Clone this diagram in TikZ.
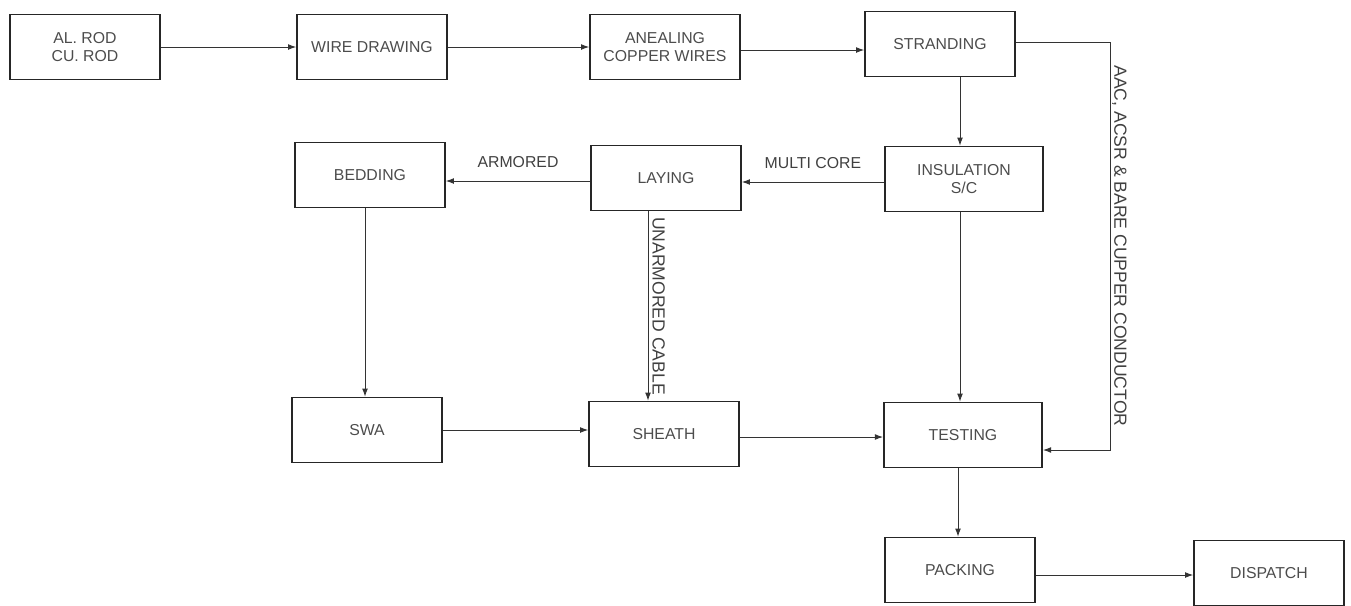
\documentclass[tikz,border=0pt]{standalone}
\usepackage{fontspec}
\setmainfont{Liberation Sans}
\usetikzlibrary{arrows.meta}

\tikzset{
  stage/.style={draw=black!85, line width=1.3pt, minimum width=4.5cm, minimum height=1.95cm,
    align=center, font=\fontsize{13.5}{16}\selectfont, text=black!70},
  flow/.style={draw=black!80, line width=0.8pt, -{Latex[length=7pt,width=5pt]}},
  tag/.style={font=\fontsize{13.5}{15}\selectfont, text=black!75},
  sidetag/.style={font=\fontsize{15}{17}\selectfont, text=black!75}
}

\begin{document}
\begin{tikzpicture}[x=0.03cm, y=-0.03cm]
  \useasboundingbox (0,0) rectangle (1351,605);
  % top row
  \node[stage] (rod) at (85,47) {AL. ROD\\CU. ROD};
  \node[stage] (wire) at (372,47) {WIRE DRAWING};
  \node[stage] (anneal) at (665,47) {ANEALING\\COPPER WIRES};
  \node[stage] (strand) at (940,44) {STRANDING};
  % middle row
  \node[stage] (bedding) at (370,175) {BEDDING};
  \node[stage] (laying) at (666,178) {LAYING};
  \node[stage, minimum width=4.75cm] (insul) at (964,179) {INSULATION\\S/C};
  % lower rows
  \node[stage] (swa) at (367,430) {SWA};
  \node[stage] (sheath) at (664,434) {SHEATH};
  \node[stage, minimum width=4.75cm] (testing) at (963,435) {TESTING};
  \node[stage] (packing) at (960,570) {PACKING};
  \node[stage] (dispatch) at (1269,573) {DISPATCH};
  \coordinate (bend1) at (1110,42);
  \coordinate (bend2) at (1110,450);

  \draw[flow] (rod) -- (wire);
  \draw[flow] (wire) -- (anneal);
  \draw[flow] (anneal.east |- 0,50) -- (strand.west |- 0,50);
  \draw[flow] (strand.south -| 960,0) -- (insul.north -| 960,0);
  \draw[flow] (insul.west |- 0,182) -- node[tag, above=8pt] {MULTI CORE} (laying.east |- 0,182);
  \draw[flow] (laying.west |- 0,181) -- node[tag, above=8pt] {ARMORED} (bedding.east |- 0,181);
  \draw[flow] (laying.south -| 648,0) -- node[sidetag, rotate=-90, anchor=south] {UNARMORED CABLE} (sheath.north -| 648,0);
  \draw[flow] (bedding.south -| 365,0) -- (swa.north -| 365,0);
  \draw[flow] (swa) -- (sheath.west |- swa);
  \draw[flow] (sheath.east |- 0,437) -- (testing.west |- 0,437);
  \draw[flow] (insul.south -| 960,0) -- (testing.north -| 960,0);
  \draw[flow] (testing.south -| 958,0) -- (packing.north -| 958,0);
  \draw[flow] (packing.east |- 0,575) -- (dispatch.west |- 0,575);
  \draw[flow] (strand.east |- bend1) -- (bend1) -- node[sidetag, rotate=-90, anchor=south, yshift=-2pt] {AAC, ACSR \& BARE CUPPER CONDUCTOR} (bend2) -- (testing.east |- bend2);
\end{tikzpicture}
\end{document}
